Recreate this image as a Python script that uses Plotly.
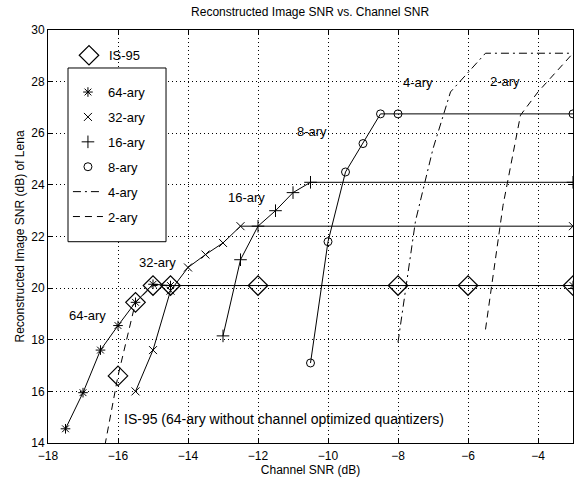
import plotly.graph_objects as go

# ---- data ----
x64 = [-17.5, -17.0, -16.5, -16.0, -15.5, -15.0, -14.5, -3.0]
y64 = [14.55, 15.95, 17.6, 18.55, 19.45, 20.15, 20.1, 20.1]

x32 = [-15.5, -15.0, -14.5, -14.0, -13.5, -13.0, -12.5, -3.0]
y32 = [16.0, 17.6, 19.9, 20.8, 21.3, 21.75, 22.4, 22.4]

x16 = [-13.0, -12.5, -12.0, -11.5, -11.0, -10.5, -3.0]
y16 = [18.15, 21.1, 22.4, 23.0, 23.7, 24.1, 24.1]

x8 = [-10.5, -10.0, -9.5, -9.0, -8.5, -8.0, -3.0]
y8 = [17.1, 21.8, 24.5, 25.6, 26.75, 26.75, 26.75]

x4 = [-8.0, -7.5, -7.0, -6.5, -5.5, -3.0]
y4 = [17.9, 22.6, 25.4, 27.6, 29.1, 29.1]

x2 = [-5.5, -5.0, -4.5, -4.0, -3.0]
y2 = [18.4, 23.2, 26.7, 27.6, 29.1]

xis = [-16.5, -16.0, -15.5, -15.0, -14.5, -12.0, -8.0, -6.0, -3.0]
yis = [13.0, 16.6, 19.45, 20.1, 20.1, 20.1, 20.1, 20.1, 20.1]

xticks = [-18, -16, -14, -12, -10, -8, -6, -4]
yticks = [14, 16, 18, 20, 22, 24, 26, 28, 30]

labels = ["64-ary", "32-ary", "16-ary", "8-ary", "4-ary", "2-ary"]
label_x = [-16.86, -14.86, -12.34, -10.46, -7.43, -4.94]
label_y = [18.95, 21.0, 23.5, 26.05, 27.97, 27.99]

FONT = "Liberation Sans, Arial, sans-serif"
fig = go.Figure()

# IS-95 dashed curve with diamonds
fig.add_trace(go.Scatter(x=xis, y=yis, mode="lines", showlegend=False,
                         line=dict(color="black", width=1, dash="7px,5px")))
fig.add_trace(go.Scatter(x=xis[1:], y=yis[1:], mode="markers", name="IS-95",
                         legend="legend",
                         marker=dict(symbol="diamond-open", size=15, color="black",
                                     line=dict(color="black", width=1.2))))

specs = [
    (x64, y64, "64-ary", "asterisk-open", 8),
    (x32, y32, "32-ary", "x-thin-open", 8),
    (x16, y16, "16-ary", "cross-thin-open", 9),
    (x8, y8, "8-ary", "circle-open", 8),
]
for i, (xs, ys, nm, sym, sz) in enumerate(specs):
    fig.add_trace(go.Scatter(x=xs, y=ys, mode="lines", showlegend=False,
                             line=dict(color="black", width=1)))
    fig.add_trace(go.Scatter(x=xs, y=ys, mode="markers", name=nm,
                             legend="legend2", legendgroup=nm,
                             marker=dict(symbol=sym, size=sz, color="black",
                                         line=dict(color="black", width=1))))

fig.add_trace(go.Scatter(x=x4, y=y4, mode="lines", name="4-ary",
                         legend="legend2", legendgroup="4-ary",
                         line=dict(color="black", width=1, dash="8px,4px,2px,4px")))
fig.add_trace(go.Scatter(x=x2, y=y2, mode="lines", name="2-ary",
                         legend="legend2", legendgroup="2-ary",
                         line=dict(color="black", width=1, dash="7px,5px")))

for t, lx, ly in zip(labels, label_x, label_y):
    fig.add_annotation(x=lx, y=ly, text=t, showarrow=False,
                       font=dict(family=FONT, size=13, color="black"))
fig.add_annotation(x=-11.26, y=14.93,
                   text="IS-95 (64-ary without channel optimized quantizers)",
                   showarrow=False, font=dict(family=FONT, size=14, color="black"))

# legend frame (white box behind the multi-entry legend)
fig.add_shape(type="rect", xref="paper", yref="paper",
              x0=0.0381, x1=0.2248, y0=0.4874, y1=0.908,
              line=dict(color="black", width=1), fillcolor="white", layer="above")

axis_common = dict(showline=True, linecolor="black", linewidth=1, mirror="ticks",
                   ticks="inside", ticklen=5, tickcolor="black",
                   showgrid=True, gridcolor="black", gridwidth=1, griddash="1px,3px",
                   zeroline=False, tickfont=dict(family=FONT, size=12, color="black"))

fig.update_layout(
    width=583, height=481,
    margin=dict(l=48, r=10, t=30, b=38),
    paper_bgcolor="white", plot_bgcolor="white",
    font=dict(family=FONT, size=12, color="black"),
    title=dict(text="Reconstructed Image SNR vs. Channel SNR", x=0.532, xanchor="center",
               y=0.975, yanchor="middle", font=dict(family=FONT, size=12, color="black")),
    xaxis=dict(range=[-18, -3], tickvals=xticks, ticklabelstandoff=2,
               title=dict(text="Channel SNR (dB)", standoff=0,
                          font=dict(family=FONT, size=12)), **axis_common),
    yaxis=dict(range=[14, 30], tickvals=yticks,
               title=dict(text="Reconstructed Image SNR (dB) of Lena", standoff=4,
                          font=dict(family=FONT, size=12)), **axis_common),
    legend=dict(x=0.04, y=0.975, xanchor="left", yanchor="top",
                bgcolor="rgba(0,0,0,0)", borderwidth=0,
                font=dict(family=FONT, size=13)),
    legend2=dict(x=0.038, y=0.886, xanchor="left", yanchor="top",
                 bgcolor="rgba(0,0,0,0)", borderwidth=0,
                 tracegroupgap=5, traceorder="grouped",
                 font=dict(family=FONT, size=13)),
)

fig.write_html("out.html")
